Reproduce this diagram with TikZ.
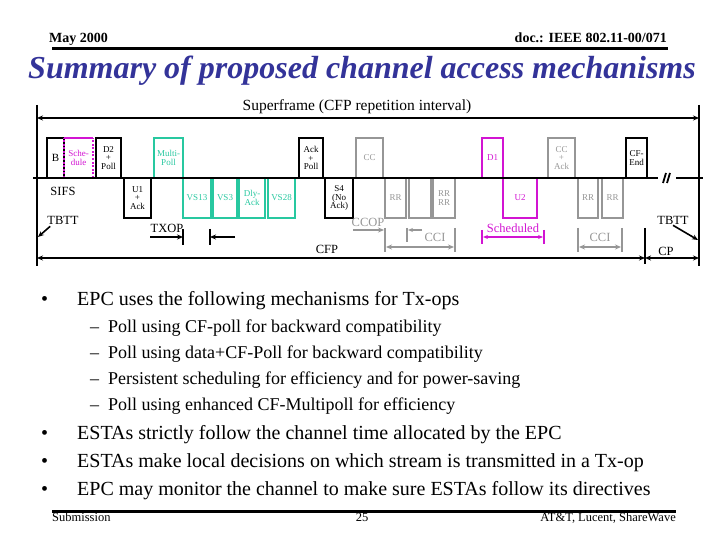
\documentclass[tikz,border=0pt]{standalone}
\usepackage{fontspec}
\setmainfont{Liberation Serif}
\usetikzlibrary{arrows.meta}
\definecolor{tealc}{RGB}{40,200,160}
\definecolor{magc}{RGB}{210,20,210}
\definecolor{grayc}{RGB}{150,150,150}
\definecolor{titleblue}{RGB}{51,51,153}
\newcommand\upframe[2]{\draw[boxline,#2] (#1.south west) |- (#1.north east) -- (#1.south east);}
\newcommand\downframe[2]{\draw[boxline,#2] (#1.north west) |- (#1.south east) -- (#1.north east);}
\begin{document}
\begin{tikzpicture}[x=1pt,y=-1pt,
  slot/.style={inner sep=0pt, outer sep=0pt, align=center, font=\fontsize{9}{8.5}\selectfont},
  upbox/.style={slot, minimum height=40pt},
  downbox/.style={slot, minimum height=40pt},
  boxline/.style={line width=2.4pt},
  lbl/.style={inner sep=0pt, font=\fontsize{12.5}{12.5}\selectfont},
  arr/.style={line width=1.6pt, -{Stealth[length=6pt,width=5pt]}},
  darr/.style={line width=1.6pt, {Stealth[length=6pt,width=5pt]}-{Stealth[length=6pt,width=5pt]}},
  bar/.style={line width=2pt},
  mainb/.style={anchor=base west, inner sep=0pt, font=\fontsize{20}{20}\selectfont},
  subb/.style={anchor=base west, inner sep=0pt, font=\fontsize{18}{18}\selectfont}
]
\useasboundingbox (0,0) rectangle (720,540);

% header
\node[anchor=base west, inner sep=0pt, font=\fontsize{14}{14}\selectfont\bfseries] (may) at (49,43) {May 2000};
\node[anchor=base east, inner sep=0pt, font=\fontsize{14}{14}\selectfont\bfseries] (doc) at (667,43) {doc.: IEEE 802.11-00/071};
\coordinate (hl) at (52,48.5); \coordinate (hr) at (668,48.5);
\draw[line width=2.2pt] (hl) -- (hr);
\node[anchor=base, inner sep=0pt, text=titleblue, font=\fontsize{32}{32}\selectfont\bfseries\itshape] (title) at (362,79) {Summary of proposed channel access mechanisms};

% superframe
\node[lbl, font=\fontsize{15.5}{15.5}\selectfont] (sf) at (357,107) {Superframe (CFP repetition interval)};
\coordinate (lt) at (37,105); \coordinate (lb) at (37,266);
\coordinate (rt) at (699,105); \coordinate (rb) at (699,266);
\draw[line width=2.5pt] (lt) -- (lb);
\draw[line width=2.5pt] (rt) -- (rb);
\coordinate (sfl) at (37,118); \coordinate (sfr) at (699,118);
\draw[darr] (sfl) -- (sfr);

% upper boxes
\node[upbox, minimum width=17pt] (B) at (55.5,158) {\fontsize{11}{11}\selectfont B};
\node[upbox, minimum width=29pt, text=magc] (Sch) at (78.5,158) {Sche-\\dule};
\node[upbox, minimum width=25pt] (D2) at (108.5,158) {D2\\+\\Poll};
\node[upbox, minimum width=29pt, text=tealc] (MP) at (168.5,158) {Multi-\\Poll};
\node[upbox, minimum width=24pt] (AP) at (311,158) {Ack\\+\\Poll};
\node[upbox, minimum width=27pt, text=grayc] (CC1) at (369.5,158) {CC};
\node[upbox, minimum width=21pt, text=magc] (D1) at (492.5,158) {D1};
\node[upbox, minimum width=27pt, text=grayc] (CCA) at (561.5,158) {CC\\+\\Ack};
\node[upbox, minimum width=21pt] (CFE) at (636.5,158) {CF-\\End};

% lower boxes
\node[downbox, minimum width=27pt] (U1) at (137.5,198) {U1\\+\\Ack};
\node[downbox, minimum width=28pt, text=tealc] (VS13) at (197,198) {VS13};
\node[downbox, minimum width=24pt, text=tealc] (VS3) at (225,198) {VS3};
\node[downbox, minimum width=26pt, text=tealc] (Dly) at (252,198) {Dly-\\Ack};
\node[downbox, minimum width=27pt, text=tealc] (VS28) at (281.5,198) {VS28};
\node[downbox, minimum width=28pt] (S4) at (339,198) {S4\\(No\\Ack)};
\node[downbox, minimum width=21pt, text=grayc] (RR1) at (395.5,198) {RR};
\node[downbox, minimum width=22pt] (RRb) at (420,198) {};
\node[downbox, minimum width=22pt, text=grayc] (RR2) at (444,198) {RR\\RR};
\node[downbox, minimum width=34pt, text=magc] (U2) at (520,198) {U2};
\node[downbox, minimum width=20pt, text=grayc] (RR3) at (588,198) {RR};
\node[downbox, minimum width=21pt, text=grayc] (RR4) at (612.5,198) {RR};

\upframe{B}{black}
\draw[boxline,magc] (Sch.north west) -- (Sch.north east);
\draw[boxline,magc,dash pattern=on 2pt off 1.6pt] (Sch.south west) -- (Sch.north west);
\draw[boxline,magc,dash pattern=on 2pt off 1.6pt] (Sch.south east) -- (Sch.north east);
\upframe{D2}{black}
\upframe{MP}{tealc}
\upframe{AP}{black}
\upframe{CC1}{grayc}
\upframe{D1}{magc}
\upframe{CCA}{grayc}
\upframe{CFE}{black}
\downframe{U1}{black}
\downframe{VS13}{tealc}
\downframe{VS3}{tealc}
\downframe{Dly}{tealc}
\downframe{VS28}{tealc}
\downframe{S4}{black}
\downframe{RR1}{grayc}
\downframe{RRb}{grayc}
\downframe{RR2}{grayc}
\downframe{U2}{magc}
\downframe{RR3}{grayc}
\downframe{RR4}{grayc}

% baseline with break
\coordinate (bl0) at (33,178); \coordinate (bl1) at (658,178);
\coordinate (bl2) at (676,178); \coordinate (bl3) at (703,178);
\draw[line width=2pt] (bl0) -- (bl1);
\draw[line width=2pt] (bl2) -- (bl3);
\draw[line width=1.8pt] (663,183) -- (666,173);
\draw[line width=1.8pt] (667,183) -- (670,173);

% labels left
\node[lbl] (sifs) at (63,191) {SIFS};
\node[lbl] (tbttl) at (63,220) {TBTT};
\coordinate (tbttlh) at (38,237);
\draw[arr] (tbttl.south west) ++(3,2) -- (tbttlh);

% TXOP
\node[lbl] (txop) at (167,228) {TXOP};
\coordinate (tx0) at (150,237); \coordinate (tx1) at (183,237);
\coordinate (tx2) at (210,237); \coordinate (tx3) at (235,237);
\draw[arr] (tx0) -- (tx1);
\draw[bar] (183,229) -- (183,245);
\draw[bar] (210,229) -- (210,245);
\draw[arr] (tx3) -- (tx2);

% CFP / CP
\node[lbl] (cfp) at (327,249) {CFP};
\coordinate (cf0) at (37,258); \coordinate (cf1) at (645,258); \coordinate (cp1) at (699,258);
\draw[darr] (cf0) -- (cf1);
\draw[darr] (cf1) -- (cp1);
\draw[line width=2.2pt] (645,228) -- (645,264);
\node[lbl] (cp) at (666,251) {CP};
\node[lbl] (tbttr) at (673,220) {TBTT};
\coordinate (tbttrh) at (698,240);
\draw[arr] (tbttr.south) ++(0,1) -- (tbttrh);

% CCOP and CCI (gray)
\begin{scope}[grayc]
\node[lbl, text=grayc] (ccop) at (368,222) {CCOP};
\coordinate (co0) at (353,230); \coordinate (co1) at (384,230);
\draw[arr] (co0) -- (co1);
\draw[bar] (385,228) -- (385,252);
\draw[bar] (455,228) -- (455,252);
\draw[bar] (407,228) -- (407,242);
\coordinate (cs0) at (422,230); \coordinate (cs1) at (408,230);
\draw[line width=1.4pt, -{Stealth[length=5pt,width=4pt]}] (cs0) -- (cs1);
\node[lbl, text=grayc] (cci1) at (435,237) {CCI};
\coordinate (ci0) at (386,247); \coordinate (ci1) at (454,247);
\draw[darr] (ci0) -- (ci1);
\draw[bar] (578,228) -- (578,252);
\draw[bar] (622,228) -- (622,252);
\node[lbl, text=grayc] (cci2) at (600,237) {CCI};
\coordinate (cj0) at (579,247); \coordinate (cj1) at (621,247);
\draw[darr] (cj0) -- (cj1);
\end{scope}

% Scheduled
\node[lbl, text=magc] (sched) at (513,228) {Scheduled};
\draw[bar, magc] (482,230) -- (482,244);
\draw[bar, magc] (544,230) -- (544,244);
\coordinate (sc0) at (483,237); \coordinate (sc1) at (543,237);
\draw[magc, line width=1.6pt, {Stealth[length=5pt,width=4pt]}-{Stealth[length=5pt,width=4pt]}] (sc0) -- (sc1);

% bullets
\node[mainb] (b1) at (41,305) {•};
\node[mainb] (t1) at (77,305) {EPC uses the following mechanisms for Tx-ops};
\node[subb] (d1) at (90,332) {–};
\node[subb] (s1) at (108,332) {Poll using CF-poll for backward compatibility};
\node[subb] (d2) at (90,358) {–};
\node[subb] (s2) at (108,358) {Poll using data+CF-Poll for backward compatibility};
\node[subb] (d3) at (90,384) {–};
\node[subb] (s3) at (108,384) {Persistent scheduling for efficiency and for power-saving};
\node[subb] (d4) at (90,410) {–};
\node[subb] (s4) at (108,410) {Poll using enhanced CF-Multipoll for efficiency};
\node[mainb] (b2) at (41,439) {•};
\node[mainb] (t2) at (77,439) {ESTAs strictly follow the channel time allocated by the EPC};
\node[mainb] (b3) at (41,467) {•};
\node[mainb] (t3) at (77,467) {ESTAs make local decisions on which stream is transmitted in a Tx-op};
\node[mainb] (b4) at (41,495) {•};
\node[mainb] (t4) at (77,495) {EPC may monitor the channel to make sure ESTAs follow its directives};

% footer
\coordinate (fl) at (52,511.5); \coordinate (fr) at (676,511.5);
\draw[line width=2.2pt] (fl) -- (fr);
\node[anchor=base west, inner sep=0pt, font=\fontsize{12.5}{12.5}\selectfont] (sub) at (52,521) {Submission};
\node[anchor=base, inner sep=0pt, font=\fontsize{12.5}{12.5}\selectfont] (pg) at (362,521) {25};
\node[anchor=base east, inner sep=0pt, font=\fontsize{12.5}{12.5}\selectfont] (auth) at (676,521) {AT\&T, Lucent, ShareWave};
\end{tikzpicture}
\end{document}
